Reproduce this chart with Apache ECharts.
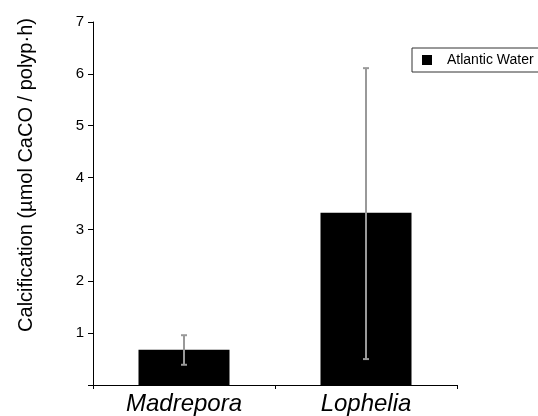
<!DOCTYPE html>
<html><head><meta charset="utf-8">
<script src="https://cdn.jsdelivr.net/npm/echarts@6/dist/echarts.min.js"></script>
<style>html,body{margin:0;padding:0;background:#fff}#c{width:538px;height:416px}</style>
</head><body><div id="c"></div>
<script>
const categories = ['Madrepora', 'Lophelia'];
const seriesName = 'Atlantic Water';
const values = [0.68, 3.32];
const errLow = [0.39, 0.50];
const errHigh = [0.96, 6.11];
const yTicks = [0, 1, 2, 3, 4, 5, 6, 7];
const yLabel = 'Calcification (µmol CaCO / polyp·h)';

const chart = echarts.init(document.getElementById('c'));
const font = 'Liberation Sans, Arial, Helvetica, sans-serif';
chart.setOption({
  animation: false,
  backgroundColor: '#fff',
  grid: { left: 93, top: 22, right: 81, bottom: 31 },
  legend: {
    data: [seriesName],
    left: 412, top: 48,
    orient: 'vertical',
    borderColor: '#333', borderWidth: 1,
    padding: [5, 30, 5, 10],
    itemWidth: 10, itemHeight: 10,
    icon: 'rect',
    textStyle: { fontFamily: font, fontSize: 14, color: '#000', padding: [0, 0, 0, 10] }
  },
  xAxis: {
    type: 'category', data: categories,
    axisLine: { lineStyle: { color: '#000', width: 1 } },
    axisTick: { show: true, length: 4, lineStyle: { color: '#000' } },
    axisLabel: { fontFamily: font, fontSize: 24, fontStyle: 'italic', color: '#000', margin: 7 }
  },
  yAxis: {
    type: 'value', min: yTicks[0], max: yTicks[yTicks.length - 1], interval: 1,
    splitLine: { show: false },
    axisLine: { show: true, lineStyle: { color: '#000', width: 1 } },
    axisTick: { show: true, length: 5, lineStyle: { color: '#000' } },
    axisLabel: {
      fontFamily: font, fontSize: 15, color: '#000', margin: 9,
      formatter: v => (v === 0 ? '' : String(v))
    }
  },
  graphic: [{
    type: 'text', x: 26, y: 175, rotation: Math.PI / 2,
    style: { text: yLabel, fontFamily: font, fontSize: 20, fill: '#000', align: 'center', verticalAlign: 'middle' }
  }],
  series: [
    {
      name: seriesName, type: 'bar', data: values, barWidth: '50%',
      itemStyle: { color: '#000' }
    },
    {
      type: 'custom', name: 'err', silent: true,
      data: categories.map((c, i) => [i, errLow[i], errHigh[i]]),
      renderItem: function (params, api) {
        const x = api.value(0);
        const lo = api.coord([x, api.value(1)]);
        const hi = api.coord([x, api.value(2)]);
        const hw = 3;
        const st = { stroke: '#999', lineWidth: 2 };
        return {
          type: 'group', children: [
            { type: 'line', shape: { x1: lo[0], y1: lo[1], x2: hi[0], y2: hi[1] }, style: st },
            { type: 'line', shape: { x1: lo[0] - hw, y1: lo[1], x2: lo[0] + hw, y2: lo[1] }, style: st },
            { type: 'line', shape: { x1: hi[0] - hw, y1: hi[1], x2: hi[0] + hw, y2: hi[1] }, style: st }
          ]
        };
      },
      z: 5
    }
  ]
});
</script></body></html>
